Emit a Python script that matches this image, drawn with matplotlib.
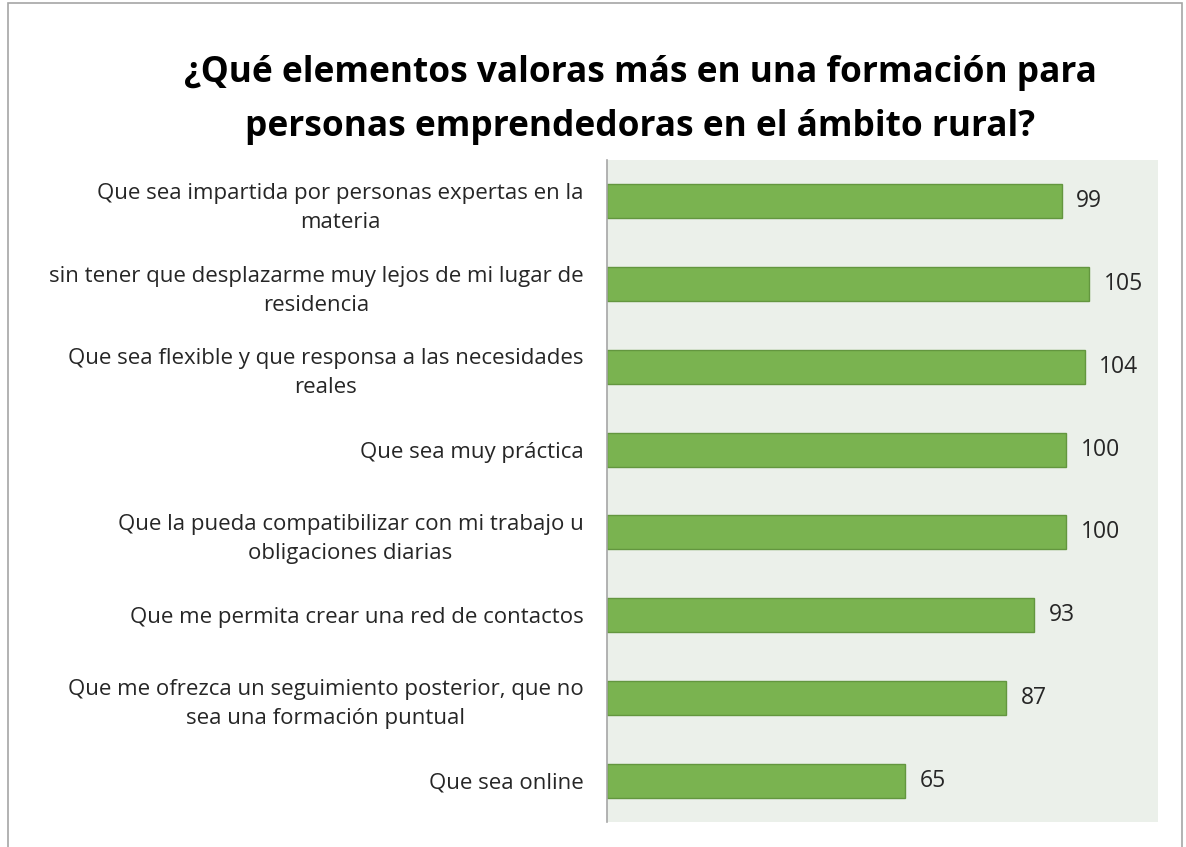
import numpy as np
import matplotlib.pyplot as plt
from matplotlib.patches import Rectangle

# categories top -> bottom
labels = [
    "Que sea impartida por personas expertas en la\nmateria",
    "sin tener que desplazarme muy lejos de mi lugar de\nresidencia",
    "Que sea flexible y que responsa a las necesidades\nreales",
    "Que sea muy práctica",
    "Que la pueda compatibilizar con mi trabajo u\nobligaciones diarias",
    "Que me permita crear una red de contactos",
    "Que me ofrezca un seguimiento posterior, que no\nsea una formación puntual",
    "Que sea online",
]
values = [99, 105, 104, 100, 100, 93, 87, 65]

title = "¿Qué elementos valoras más en una formación para\npersonas emprendedoras en el ámbito rural?"

plt.rcParams['font.family'] = ['Open Sans', 'DejaVu Sans']

fig = plt.figure(figsize=(11.86, 8.47), dpi=100)
ax = fig.add_axes([607 / 1186, 1 - 822 / 847, (1158 - 607) / 1186, (822 - 160) / 847])
ax.set_facecolor("#ebf0ea")

y = np.arange(len(values))
ax.barh(y, values, height=0.41, color="#7ab350", edgecolor="#63963f", linewidth=1)
ax.set_ylim(len(values) - 0.5, -0.5)
ax.set_xlim(0, 120)

for i, v in enumerate(values):
    ax.text(v + 3.2, i, str(v), va="center", ha="left", fontsize=16.5, color="#262626")

ax.set_yticks(y)
ax.set_yticklabels(labels, fontsize=16, color="#262626", ha="right",
                   multialignment="center", linespacing=1.5)
ax.tick_params(axis="y", length=0, pad=17)
ax.set_xticks([])
for s in ["top", "right", "bottom"]:
    ax.spines[s].set_visible(False)
ax.spines["left"].set_color("#a6a6a6")
ax.spines["left"].set_linewidth(1.2)

fig.text(640 / 1186, 1 - 100 / 847, title, ha="center", va="center", fontsize=25.4,
         fontweight="bold", color="#000000", linespacing=1.65)

# chart frame
fig.patches.append(Rectangle((8 / 1186, -0.1), (1182 - 8) / 1186, 1.1 - 3 / 847,
                             transform=fig.transFigure, fill=False,
                             edgecolor="#a6a6a6", linewidth=1.2))

fig.savefig("out.png", dpi=100)
